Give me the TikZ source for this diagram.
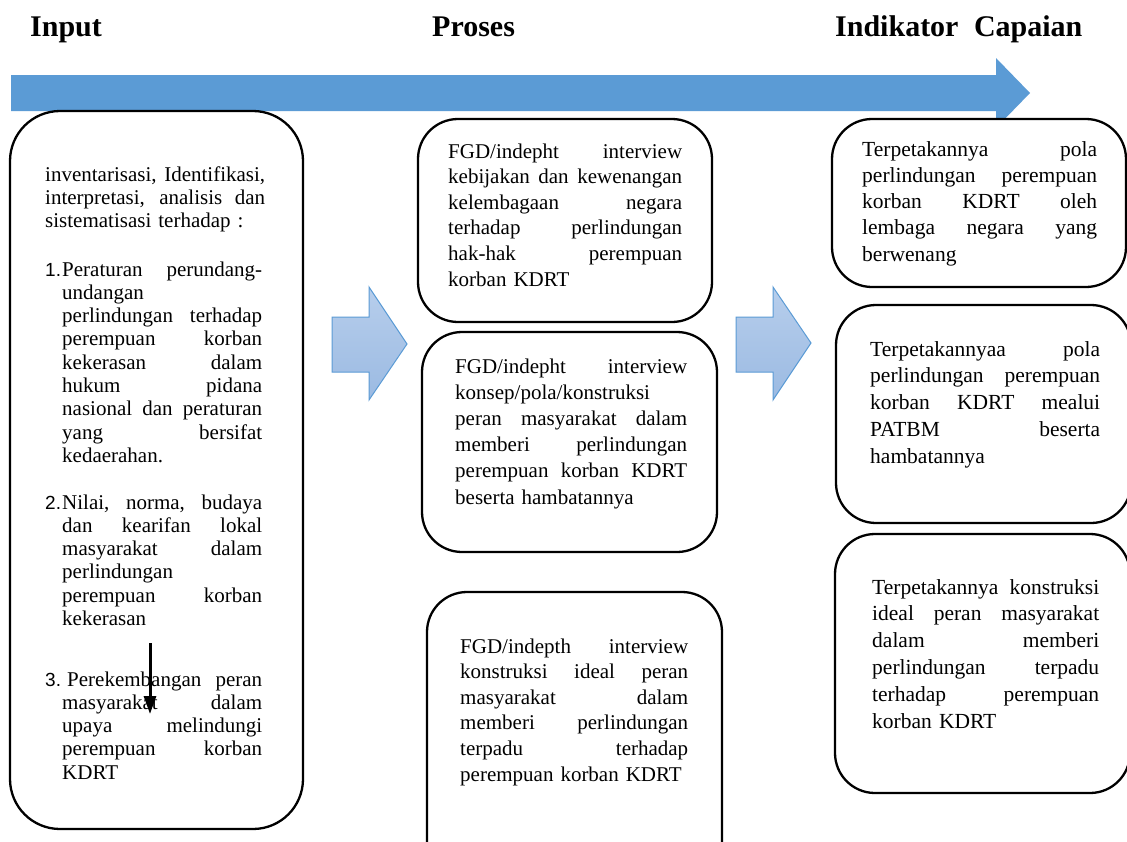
\documentclass[tikz,border=0pt]{standalone}
\usepackage{fontspec}
\setmainfont{Liberation Serif}
\newfontfamily\numfont{Liberation Sans}
\usetikzlibrary{arrows.meta}
\setlength\parindent{0pt}
\newlength\jw
\newcommand\jl[1]{\makebox[\jw][s]{\spaceskip=0pt\xspaceskip=0pt #1}}
\definecolor{bigblue}{HTML}{5B9BD5}
\definecolor{lightA}{HTML}{B7CEEC}
\definecolor{lightB}{HTML}{9BBAE2}
\tikzset{
  box/.style={draw=black, line width=2.3pt, fill=white, rounded corners=40pt, inner sep=0pt},
  txt/.style={anchor=base west, inner sep=0pt},
  hdr/.style={anchor=base west, inner sep=0pt, font=\fontsize{30}{34}\selectfont\bfseries},
  num/.style={anchor=base west, inner sep=0pt, font=\numfont\fontsize{19}{22}\selectfont},
  bluearrow/.style={draw=bigblue, line width=1pt, top color=lightA, bottom color=lightB},
}
\begin{document}
\begin{tikzpicture}[x=1pt,y=-1pt]
\useasboundingbox (0,0) rectangle (1127,841);
\fill[white] (0,0) rectangle (1127,841);
\clip (0,0) rectangle (1127,841);

% headers
\node[hdr] (hin) at (30,36) {Input};
\node[hdr] (hpr) at (432,36) {Proses};
\node[hdr] (hic) at (835,36) {Indikator\hspace{8pt} Capaian};

% big arrow
\fill[bigblue] (11,75) -- (996,75) -- (996,58) -- (1030,93) -- (996,128) -- (996,111) -- (11,111) -- cycle;

% boxes
\node[box, rounded corners=50pt, minimum width=293pt, minimum height=718pt] (inbox) at (156.5,470) {};
\node[box, minimum width=294pt, minimum height=203pt] (p1) at (565,220.5) {};
\node[box, minimum width=295pt, minimum height=220pt] (p2) at (569.5,442) {};
\node[box, minimum width=295pt, minimum height=298pt] (p3) at (574.5,741) {};
\node[box, minimum width=294pt, minimum height=168pt] (r1) at (979,203) {};
\node[box, minimum width=295pt, minimum height=218pt] (r2) at (983.5,414) {};
\node[box, minimum width=295pt, minimum height=259pt] (r3) at (982.5,663.5) {};

% small blue arrows
\draw[bluearrow] (332,317) -- (369,317) -- (369,287) -- (407,344) -- (369,400) -- (369,372) -- (332,372) -- cycle;
\draw[bluearrow] (736,317) -- (773,317) -- (773,287) -- (811,343) -- (773,400) -- (773,372) -- (736,372) -- cycle;

% input box text
\node[txt, text width=220pt, font=\fontsize{21}{23.3}\selectfont] (in0) at (45,181)
  {\setlength\jw{220pt}\jl{inventarisasi, Identifikasi,}\\\jl{interpretasi, analisis dan}\\sistematisasi terhadap :};
\node[num] (n1) at (45,276) {1.};
\node[txt, text width=200pt, font=\fontsize{21}{23.3}\selectfont] (in1) at (62,276)
  {\setlength\jw{200pt}\jl{Peraturan perundang-}\\undangan\\\jl{perlindungan terhadap}\\\jl{perempuan korban}\\\jl{kekerasan dalam}\\\jl{hukum pidana}\\\jl{nasional dan peraturan}\\\jl{yang bersifat}\\kedaerahan.};
\node[num] (n2) at (45,509) {2.};
\node[txt, text width=200pt, font=\fontsize{21}{23.3}\selectfont] (in2) at (62,509)
  {\setlength\jw{200pt}\jl{Nilai, norma, budaya}\\\jl{dan kearifan lokal}\\\jl{masyarakat dalam}\\perlindungan\\\jl{perempuan korban}\\kekerasan};
\node[num] (n3) at (45,686) {3.};
\node[txt, text width=200pt, font=\fontsize{21}{23.3}\selectfont] (in3) at (62,686)
  {\setlength\jw{200pt}\jl{\hspace{5pt}Perekembangan peran}\\\jl{masyarakat dalam}\\\jl{upaya melindungi}\\\jl{perempuan korban}\\KDRT};

% black arrow in input box
\coordinate (ba1) at (150,643);
\coordinate (ba2) at (150,714);
\draw[line width=3pt, -{Triangle[length=18pt,width=12pt]}] (ba1) -- (ba2);

% process texts
\node[txt, text width=234pt, font=\fontsize{21}{25.6}\selectfont] (p1t) at (448,158)
  {\setlength\jw{234pt}\jl{FGD/indepht interview}\\\jl{kebijakan dan kewenangan}\\\jl{kelembagaan negara}\\\jl{terhadap perlindungan}\\\jl{hak-hak perempuan}\\korban KDRT};
\node[txt, text width=232pt, font=\fontsize{21}{26.2}\selectfont] (p2t) at (455,373)
  {\setlength\jw{232pt}\jl{FGD/indepht interview}\\konsep/pola/konstruksi\\\jl{peran masyarakat dalam}\\\jl{memberi perlindungan}\\\jl{perempuan korban KDRT}\\beserta hambatannya};
\node[txt, text width=228pt, font=\fontsize{21}{25.6}\selectfont] (p3t) at (460,653)
  {\setlength\jw{228pt}\jl{FGD/indepth interview}\\\jl{konstruksi ideal peran}\\\jl{masyarakat dalam}\\\jl{memberi perlindungan}\\\jl{terpadu terhadap}\\perempuan korban KDRT};

% result texts
\node[txt, text width=235pt, font=\fontsize{21.5}{26.25}\selectfont] (r1t) at (862,156)
  {\setlength\jw{235pt}\jl{Terpetakannya pola}\\\jl{perlindungan perempuan}\\\jl{korban KDRT oleh}\\\jl{lembaga negara yang}\\berwenang};
\node[txt, text width=230pt, font=\fontsize{21.5}{26.75}\selectfont] (r2t) at (870,356)
  {\setlength\jw{230pt}\jl{Terpetakannyaa pola}\\\jl{perlindungan perempuan}\\\jl{korban KDRT mealui}\\\jl{PATBM beserta}\\hambatannya};
\node[txt, text width=227pt, font=\fontsize{21.5}{26.8}\selectfont] (r3t) at (872,594)
  {\setlength\jw{227pt}\jl{Terpetakannya konstruksi}\\\jl{ideal peran masyarakat}\\\jl{dalam memberi}\\\jl{perlindungan terpadu}\\\jl{terhadap perempuan}\\korban KDRT};
\end{tikzpicture}
\end{document}
